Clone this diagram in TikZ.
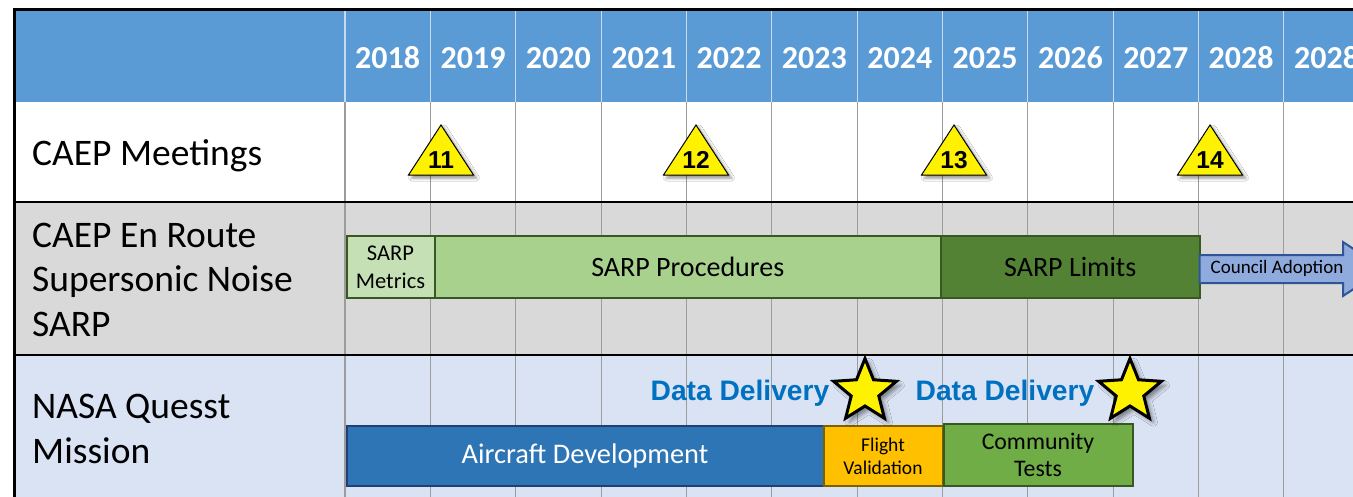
\documentclass[tikz,border=0pt]{standalone}
\usepackage{fontspec}
\setmainfont{Carlito}
\newfontfamily\arialfont{Liberation Sans}
\usetikzlibrary{calc,shadows.blur}

\definecolor{hdrblue}{HTML}{5B9BD5}
\definecolor{hdrsep}{HTML}{C9DAF0}
\definecolor{gridgray}{HTML}{9C9C9C}
\definecolor{sarpbg}{HTML}{D9D9D9}
\definecolor{nasabg}{HTML}{DAE3F3}
\definecolor{metricsfill}{HTML}{C5E0B4}
\definecolor{procfill}{HTML}{A9D18E}
\definecolor{limitsfill}{HTML}{548235}
\definecolor{greenline}{HTML}{385723}
\definecolor{acfill}{HTML}{2E75B6}
\definecolor{acline}{HTML}{213F73}
\definecolor{flightfill}{HTML}{FFC000}
\definecolor{flightline}{HTML}{7F6000}
\definecolor{commfill}{HTML}{70AD47}
\definecolor{councilfill}{HTML}{8FAADC}
\definecolor{councilline}{HTML}{2F5597}
\definecolor{deliveryblue}{HTML}{0070C0}

\tikzset{
  yearlabel/.style={text=white, font=\fontsize{32}{36}\selectfont\bfseries, anchor=base, inner sep=0},
  rowlabel/.style={font=\fontsize{37.5}{44.5}\selectfont, anchor=base west, align=left, inner sep=0},
  gridline/.style={draw=gridgray, line width=1.1pt},
  hdrline/.style={draw=hdrsep, line width=1.1pt},
  rowline/.style={draw=black, line width=1.8pt},
  meettri/.style={fill=yellow, draw=black, line width=1pt, line join=miter,
    blur shadow={shadow xshift=3pt, shadow yshift=-3pt, shadow blur radius=3pt, shadow opacity=45}},
  meetnum/.style={font=\arialfont\fontsize{24.5}{28}\selectfont\bfseries, anchor=base, inner sep=0},
  bar/.style={anchor=north west, inner sep=0, outer sep=0, line width=2pt, align=center},
  deliverytext/.style={text=deliveryblue, font=\arialfont\fontsize{28.2}{30}\selectfont\bfseries, anchor=base, inner sep=0},
  starpath/.style={fill=yellow, draw=black, line width=3pt, line join=miter,
    blur shadow={shadow xshift=4pt, shadow yshift=-4pt, shadow blur radius=4pt, shadow opacity=45}},
}

\begin{document}
\begin{tikzpicture}[x=1pt, y=-1pt]
\useasboundingbox (0,0) rectangle (1353,496);
\begin{scope}
\clip (0,0) rectangle (1353,496);

% row backgrounds
\fill[hdrblue] (14,10) rectangle (1360,102);
\fill[white] (14,102) rectangle (1360,202);
\fill[sarpbg] (14,202) rectangle (1360,355);
\fill[nasabg] (14,355) rectangle (1360,500);

% year columns
\foreach \i in {0,...,11} {
  \draw[hdrline] ({345+85.35*\i},10) -- ({345+85.35*\i},102);
  \draw[gridline] ({345+85.35*\i},102) -- ({345+85.35*\i},500);
}
\foreach \yr [count=\i from 0] in {2018,2019,2020,2021,2022,2023,2024,2025,2026,2027,2028,2028} {
  \node[yearlabel] (yr\i) at ({345+85.35*(\i+0.5)},68) {\yr};
}

% row separators and frame
\draw[rowline] (14,202) -- (1360,202);
\draw[rowline] (14,355) -- (1360,355);
\draw[draw=black, line width=3pt] (1360,9.5) -- (14,9.5) -- (14,500);

% row titles (base anchor sits on the last line)
\node[rowlabel] (meetings) at (32,165) {CAEP Meetings};
\node[rowlabel] (sarp) at (32,336) {CAEP En Route\\Supersonic Noise\\SARP};
\node[rowlabel] (quesst) at (32,463) {NASA Quesst\\Mission};

% CAEP meetings
\foreach \cx/\n in {441/11, 696/12, 954/13, 1210/14} {
  \filldraw[meettri] (\cx-32.5,175) -- (\cx,125) -- (\cx+32.5,175) -- cycle;
  \node[meetnum] (meet\n) at (\cx,168.5) {\n};
}

% SARP phases
\node[bar, fill=metricsfill, draw=greenline, minimum width=88pt, minimum height=62pt,
  font=\fontsize{22.5}{28}\selectfont] (metrics) at (346.5,236) {SARP\\Metrics};
\node[bar, fill=procfill, draw=greenline, minimum width=506.5pt, minimum height=62pt,
  font=\fontsize{28}{30}\selectfont] (procedures) at (434.5,236) {SARP Procedures};
\node[bar, fill=limitsfill, draw=greenline, minimum width=258.5pt, minimum height=62pt,
  font=\fontsize{28}{30}\selectfont] (limits) at (941,236) {SARP Limits};

% council adoption arrow
\draw[fill=councilfill, draw=councilline, line width=2pt, line join=miter]
  (limits.east |- 0,255) -- (1343,255) -- (1343,242) -- (1384,269) -- (1343,296)
  -- (1343,283) -- (limits.east |- 0,283) -- cycle;
\node[anchor=base, inner sep=0, font=\fontsize{19}{22}\selectfont] (council) at (1277,273) {Council Adoption};

% Quesst mission phases
\node[bar, fill=acfill, draw=acline, text=white, minimum width=477pt, minimum height=60pt,
  font=\fontsize{28.4}{30}\selectfont] (aircraft) at (346.5,426) {Aircraft Development};
\node[bar, fill=flightfill, draw=flightline, minimum width=119pt, minimum height=60pt,
  font=\fontsize{19.5}{23}\selectfont] (flight) at (823.5,426) {Flight\\Validation};
\node[bar, fill=commfill, draw=greenline, minimum width=189pt, minimum height=62pt,
  font=\fontsize{23.8}{27.5}\selectfont] (community) at (943.5,424) {Community\\Tests};

% data deliveries, each marked by a five-pointed star (y axis points down)
\node[deliverytext] (delivery1) at (740,400) {Data Delivery};
\node[deliverytext] (delivery2) at (1005,400) {Data Delivery};
\coordinate (star1) at (865,391.5);
\coordinate (star2) at (1130,391.5);
\foreach \s in {star1, star2} {
  \filldraw[starpath] ($(\s)+(270:33)$)
    \foreach \k in {0,...,4} { -- ($(\s)+(306+72*\k:14.5)$) -- ($(\s)+(342+72*\k:33)$) } -- cycle;
}
\end{scope}
\end{tikzpicture}
\end{document}
